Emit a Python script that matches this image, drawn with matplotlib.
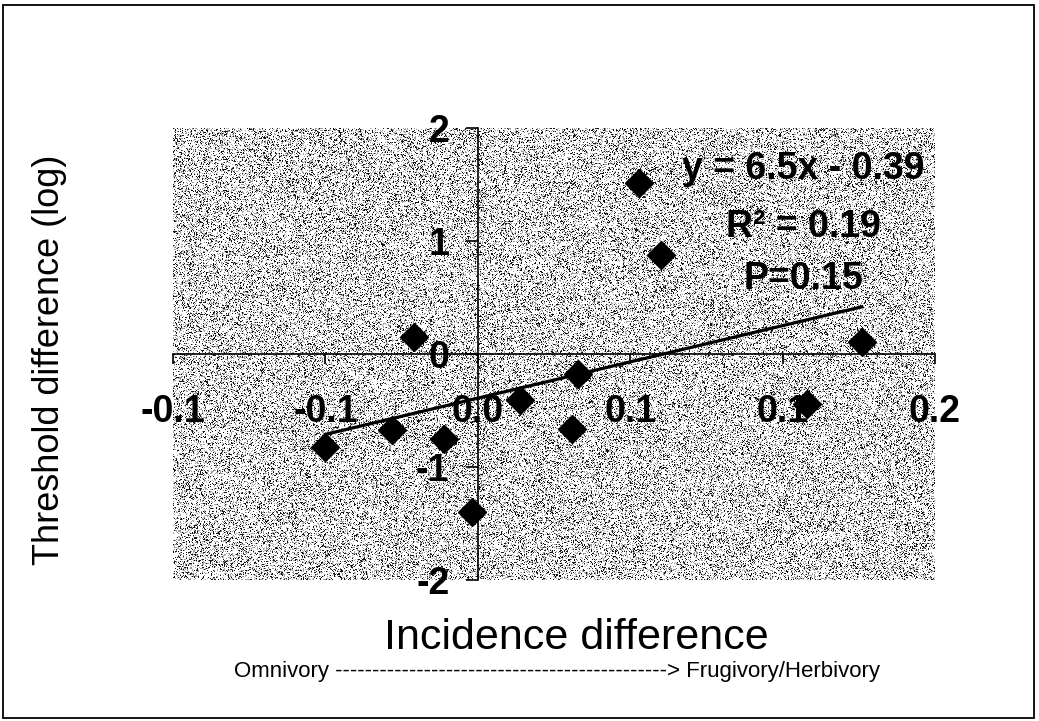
import numpy as np
import matplotlib
matplotlib.use("Agg")
import matplotlib.pyplot as plt
from matplotlib.patches import Rectangle

plt.rcParams["font.family"] = ["Liberation Sans", "DejaVu Sans"]

# Per-species differences (incidence vs. log threshold)
incidence_diff = [-0.050, -0.028, -0.021, -0.011, -0.002, 0.014,
                  0.031, 0.033, 0.053, 0.060, 0.108, 0.126]
threshold_diff = [-0.82, -0.67, 0.15, -0.75, -1.40, -0.41,
                  -0.66, -0.18, 1.51, 0.88, -0.44, 0.11]

x_ticks = [-0.10, -0.05, 0.0, 0.05, 0.10, 0.15]
x_tick_labels = ["-0.1", "-0.1", "0.0", "0.1", "0.1", "0.2"]
y_ticks = [-2, -1, 0, 1, 2]
y_tick_labels = ["-2", "-1", "0", "1", "2"]

stats_lines = ["y = 6.5x - 0.39", "R\u00b2 = 0.19", "P=0.15"]
x_title = "Incidence difference"
y_title = "Threshold difference (log)"
direction_note = "Omnivory " + "-" * 45 + "> Frugivory/Herbivory"

W, H = 1039, 721
fig = plt.figure(figsize=(W / 100, H / 100), dpi=100)
fig.patch.set_facecolor("white")

# plot area in pixel coordinates
L, R, T, B = 173, 935, 128, 580
ax = fig.add_axes([L / W, 1 - B / H, (R - L) / W, (B - T) / H])
ax.set_xlim(-0.10, 0.15)
ax.set_ylim(-2, 2)

# speckled grey fill of the plot area
rng = np.random.default_rng(3)
u = rng.random((B - T, R - L))
tex = np.ones_like(u)
tex[u < 0.34] = 0.62
tex[u < 0.15] = 0.08
ax.imshow(tex, extent=[-0.10, 0.15, -2, 2], aspect="auto", cmap="gray",
          vmin=0, vmax=1, interpolation="nearest", zorder=0)

for s in ("top", "right"):
    ax.spines[s].set_visible(False)
ax.spines["left"].set_position(("data", 0))
ax.spines["bottom"].set_position(("data", 0))
for s in ("left", "bottom"):
    ax.spines[s].set_linewidth(1.2)
    ax.spines[s].set_zorder(2)

ax.set_xticks(x_ticks)
ax.set_xticklabels(x_tick_labels, fontweight="bold")
ax.set_yticks(y_ticks)
ax.set_yticklabels(y_tick_labels, fontweight="bold")
ax.tick_params(axis="x", direction="out", length=7, width=1.2,
               labelsize=27, pad=22)
ax.tick_params(axis="y", direction="out", length=8.5, width=1.2,
               labelsize=27, pad=12)

# trend line
coef = np.polyfit(incidence_diff, threshold_diff, 1)
xs = np.array([min(incidence_diff), max(incidence_diff)])
ax.plot(xs, np.polyval(coef, xs), color="black", lw=2.3, zorder=3)

ax.plot(incidence_diff, threshold_diff, linestyle="none", marker="D",
        ms=14, color="black", zorder=4, clip_on=False)

# regression statistics
for txt, yb in zip(stats_lines, (177, 235, 287)):
    ax.text(0.1069, (352 - yb) / 113, txt, ha="center", va="baseline",
            fontsize=27, fontweight="bold", zorder=5)

fig.text(576 / W, 1 - 638 / H, x_title, ha="center", va="center", fontsize=31)
fig.text(50 / W, 1 - 360 / H, y_title, ha="center", va="center",
         rotation=90, fontsize=26)
fig.text(557 / W, 1 - 672 / H, direction_note, ha="center", va="center",
         fontsize=16)

fig.add_artist(Rectangle((3 / W, 3 / H), 1031 / W, 713 / H,
                         transform=fig.transFigure, fill=False,
                         lw=1.3, ec="black"))

fig.savefig("out.png", dpi=100)
